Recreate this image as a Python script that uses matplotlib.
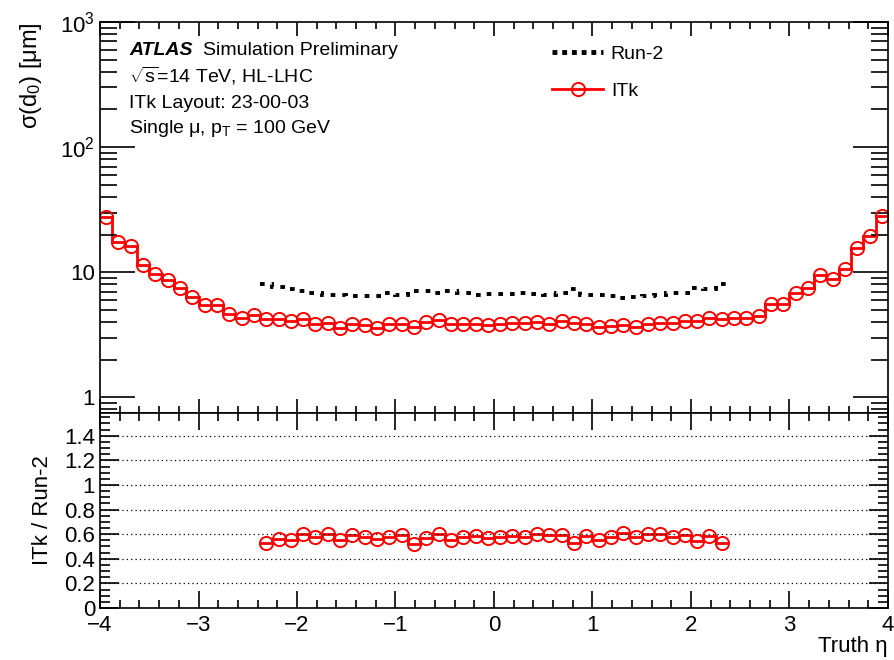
import numpy as np
import matplotlib
matplotlib.use('Agg')
import matplotlib.pyplot as plt
from matplotlib.ticker import MultipleLocator, FixedLocator, NullFormatter, FixedFormatter

plt.rcParams['font.family'] = ['Liberation Sans', 'DejaVu Sans']
plt.rcParams['mathtext.fontset'] = 'custom'
plt.rcParams['mathtext.rm'] = 'Liberation Sans'
plt.rcParams['mathtext.it'] = 'Liberation Sans:italic'
plt.rcParams['mathtext.bf'] = 'Liberation Sans:bold'

# binning in truth eta
itk_edges = np.linspace(-4, 4, 65)
run2_edges = np.linspace(-2.375, 2.375, 39)

# sigma(d0) [um], ITk, 64 bins from -4 to 4
itk_sigma = [27.7, 17.5, 16.1, 11.5, 9.77, 8.63, 7.55, 6.35, 5.52, 5.52, 4.67, 4.31, 4.55, 4.26, 4.26, 4.1,
             4.26, 3.89, 3.96, 3.61, 3.84, 3.77, 3.61, 3.89, 3.89, 3.65, 4.0, 4.13, 3.89, 3.89, 3.89, 3.8,
             3.89, 3.93, 3.93, 4.0, 3.89, 4.08, 3.93, 3.84, 3.65, 3.72, 3.77, 3.65, 3.89, 3.96, 3.96, 4.08,
             4.1, 4.31, 4.26, 4.34, 4.31, 4.5, 5.55, 5.62, 6.88, 7.55, 9.59, 8.9, 10.7, 15.6, 19.4, 28.2]

# sigma(d0) [um], Run-2, 38 bins from -2.375 to 2.375
run2_sigma = [8.02, 7.59, 7.41, 7.08, 6.77, 6.58, 6.53, 6.48, 6.50, 6.46, 6.77, 6.56, 7.05, 7.05, 6.86, 7.03, 6.77, 6.62, 6.70,
              6.71, 6.72, 6.78, 6.64, 6.56, 6.88, 7.40, 6.56, 6.60, 6.41, 6.21, 6.35, 6.46, 6.58, 6.83, 6.88, 7.52, 7.37, 8.10]

# ITk / Run-2
ratio = [0.531, 0.561, 0.553, 0.602, 0.575, 0.602, 0.553, 0.593, 0.580, 0.559, 0.575, 0.593, 0.518, 0.567, 0.602, 0.553, 0.575, 0.588, 0.567,
         0.580, 0.585, 0.580, 0.602, 0.593, 0.593, 0.531, 0.585, 0.553, 0.580, 0.607, 0.575, 0.602, 0.602, 0.580, 0.593, 0.545, 0.585, 0.526]

itk_centers = 0.5 * (itk_edges[1:] + itk_edges[:-1])
run2_centers = 0.5 * (run2_edges[1:] + run2_edges[:-1])

fig = plt.figure(figsize=(8.95, 6.6), dpi=100)
L, R = 100 / 895, 888 / 895
y_top, y_mid, y_bot = 1 - 22 / 660, 1 - 413 / 660, 1 - 608 / 660
ax = fig.add_axes([L, y_mid, R - L, y_top - y_mid])
ax2 = fig.add_axes([L, y_bot, R - L, y_mid - y_bot], sharex=ax)

red = '#ff0000'
dots = (0, (1.2, 1.8))

# top panel
ax.stairs(run2_sigma, run2_edges, baseline=None, color='black', lw=2.8, ls=dots)
ax.stairs(itk_sigma, itk_edges, baseline=None, color=red, lw=2.0)
ax.plot(itk_centers, itk_sigma, 'o', ms=9.5, mfc='none', mec=red, mew=1.4)

ax.set_yscale('log')
ax.set_ylim(0.75, 1000)
ax.set_xlim(-4, 4)
ax.yaxis.set_major_locator(FixedLocator([1, 10, 100, 1000]))
ax.yaxis.set_major_formatter(FixedFormatter(['1', '10', '10$^2$', '10$^3$']))
minors = [m * d for d in [0.1, 1, 10, 100] for m in range(2, 10)]
ax.yaxis.set_minor_locator(FixedLocator(minors))
ax.yaxis.set_minor_formatter(NullFormatter())
ax.xaxis.set_major_locator(MultipleLocator(1))
ax.xaxis.set_minor_locator(MultipleLocator(0.2))
ax.tick_params(axis='x', which='both', labelbottom=False)
ax.tick_params(which='both', direction='in', top=True, right=True, labelsize=16, width=1.2)
ax.tick_params(axis='y', which='major', length=25)
ax.tick_params(axis='y', which='minor', length=12)
ax.tick_params(axis='x', which='major', length=10)
ax.tick_params(axis='x', which='minor', length=5)
ax.set_ylabel('σ(d$_0$) [μm]', fontsize=17, loc='top', labelpad=12)

ax.text(0.037, 0.915, 'ATLAS', transform=ax.transAxes, fontsize=14, fontweight='bold', fontstyle='italic')
ax.text(0.131, 0.915, 'Simulation Preliminary', transform=ax.transAxes, fontsize=14)
ax.text(0.037, 0.845, r'$\sqrt{\rm s}$=14 TeV, HL-LHC', transform=ax.transAxes, fontsize=14)
ax.text(0.037, 0.78, 'ITk Layout: 23-00-03', transform=ax.transAxes, fontsize=14)
ax.text(0.037, 0.715, 'Single μ, p$_{\\rm T}$ = 100 GeV', transform=ax.transAxes, fontsize=14)

leg = ax.legend(handles=[
    plt.Line2D([], [], color='black', lw=3.5, ls=(0, (1, 1))),
    plt.Line2D([], [], color=red, lw=2.0, marker='o', ms=9.5, mfc='none', mec=red, mew=1.4)],
    labels=['Run-2', 'ITk'], loc='upper left', bbox_to_anchor=(0.552, 0.985), frameon=False,
    fontsize=14, handlelength=2.6, handletextpad=0.4, labelspacing=1.0)

# ratio panel
for g in [0.2, 0.4, 0.6, 0.8, 1.0, 1.2, 1.4]:
    ax2.axhline(g, color='black', lw=0.9, ls=(0, (1, 2.5)))
ax2.stairs(ratio, run2_edges, baseline=None, color=red, lw=2.0)
ax2.plot(run2_centers, ratio, 'o', ms=9.5, mfc='none', mec=red, mew=1.4)
ax2.set_ylim(0, 1.585)
ax2.yaxis.set_major_locator(FixedLocator([0, 0.2, 0.4, 0.6, 0.8, 1.0, 1.2, 1.4]))
ax2.yaxis.set_major_formatter(FixedFormatter(['0', '0.2', '0.4', '0.6', '0.8', '1', '1.2', '1.4']))
ax2.yaxis.set_minor_locator(MultipleLocator(0.05))
ax2.tick_params(which='both', direction='in', top=True, right=True, labelsize=16, width=1.2)
ax2.tick_params(axis='y', which='major', length=14)
ax2.tick_params(axis='y', which='minor', length=7)
ax2.tick_params(axis='x', which='major', length=12, pad=5)
ax2.tick_params(axis='x', which='minor', length=6)
ax2.set_xticks(range(-4, 5))
ax2.set_xticklabels(['\u22124', '\u22123', '\u22122', '\u22121', '0', '1', '2', '3', '4'])
ax2.set_ylabel('ITk / Run-2', fontsize=16, labelpad=8)
ax2.set_xlabel('Truth η', fontsize=16, loc='right', labelpad=0)

for a in (ax, ax2):
    for s in a.spines.values():
        s.set_linewidth(1.2)

fig.savefig('out.png', dpi=100)
